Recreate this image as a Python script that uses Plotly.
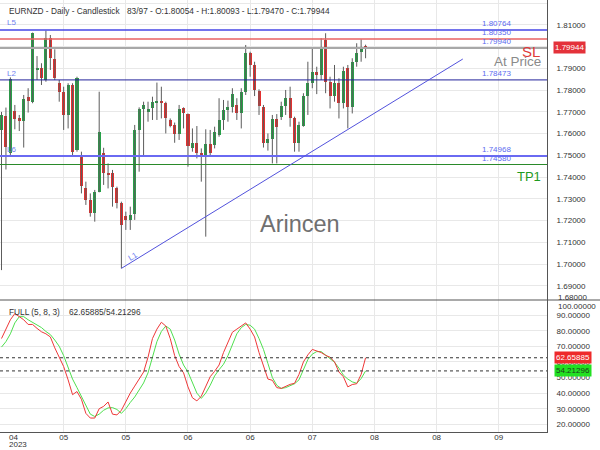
import plotly.graph_objects as go
from plotly.subplots import make_subplots

# ---------------- data ----------------
opens = [1.7617, 1.7680, 1.7509, 1.7706, 1.7674, 1.7658, 1.7767, 1.7747, 1.7897, 1.7901,
         1.7847, 1.8039, 1.7942, 1.7835, 1.7793, 1.7686, 1.7824, 1.7525, 1.7494, 1.7348,
         1.7295, 1.7236, 1.7333, 1.7512, 1.7417, 1.7417, 1.7348, 1.7279, 1.7221, 1.7203,
         1.7230, 1.7617, 1.7712, 1.7701, 1.7717, 1.7744, 1.7750, 1.7740, 1.7663, 1.7640,
         1.7598, 1.7717, 1.7690, 1.7532, 1.7558, 1.7509, 1.7494, 1.7552, 1.7548, 1.7594,
         1.7663, 1.7712, 1.7721, 1.7732, 1.7697, 1.7793, 1.7970, 1.7916, 1.7798, 1.7721,
         1.7555, 1.7574, 1.7666, 1.7675, 1.7727, 1.7763, 1.7670, 1.7555, 1.7635, 1.7773,
         1.7835, 1.7885, 1.7870, 1.8031, 1.7839, 1.7773, 1.7832, 1.7740, 1.7901, 1.7721,
         1.7931, 1.7977, 1.80054]
highs = [1.7700, 1.7720, 1.7859, 1.7732, 1.7686, 1.7778, 1.7809, 1.8065, 1.7957, 1.7924,
         1.8074, 1.8054, 1.7988, 1.7847, 1.7816, 1.7832, 1.7832, 1.7862, 1.7517, 1.7379,
         1.7325, 1.7341, 1.7793, 1.7535, 1.7463, 1.7433, 1.7356, 1.7287, 1.7241, 1.7264,
         1.7640, 1.7721, 1.7747, 1.7747, 1.7770, 1.7835, 1.7816, 1.7747, 1.7670, 1.7651,
         1.7732, 1.7721, 1.7693, 1.7624, 1.7635, 1.7532, 1.7620, 1.7617, 1.7632, 1.7763,
         1.7755, 1.7752, 1.7809, 1.7763, 1.7809, 1.8008, 1.7977, 1.7931, 1.7804, 1.7732,
         1.7601, 1.7686, 1.7690, 1.7747, 1.7801, 1.7816, 1.7678, 1.7655, 1.7786, 1.7931,
         1.7993, 1.7908, 1.8039, 1.8062, 1.7862, 1.7916, 1.7855, 1.7908, 1.7916, 1.7947,
         1.8016, 1.8034, 1.80093]
lows = [1.6972, 1.7435, 1.7502, 1.7620, 1.7612, 1.7536, 1.7697, 1.7740, 1.7847, 1.7824,
        1.7839, 1.7893, 1.7847, 1.7747, 1.7617, 1.7624, 1.7494, 1.7517, 1.7325, 1.7272,
        1.7218, 1.7195, 1.7330, 1.7364, 1.7348, 1.7264, 1.7256, 1.6980, 1.7157, 1.7157,
        1.7203, 1.7425, 1.7494, 1.7655, 1.7663, 1.7663, 1.7670, 1.7601, 1.7629, 1.7558,
        1.7571, 1.7624, 1.7448, 1.7517, 1.7486, 1.7379, 1.7126, 1.7494, 1.7532, 1.7586,
        1.7617, 1.7655, 1.7697, 1.7663, 1.7624, 1.7778, 1.7862, 1.7773, 1.7686, 1.7536,
        1.7522, 1.7463, 1.7463, 1.7663, 1.7686, 1.7632, 1.7517, 1.7517, 1.7632, 1.7686,
        1.7809, 1.7782, 1.7847, 1.7786, 1.7716, 1.7747, 1.7670, 1.7716, 1.7624, 1.7693,
        1.7908, 1.7931, 1.79470]
closes = [1.7686, 1.7540, 1.7850, 1.7667, 1.7658, 1.7759, 1.7752, 1.8062, 1.7901, 1.7855,
          1.8039, 1.7947, 1.7855, 1.7793, 1.7686, 1.7824, 1.7517, 1.7855, 1.7357, 1.7295,
          1.7233, 1.7333, 1.7609, 1.7417, 1.7410, 1.7356, 1.7279, 1.7180, 1.7203, 1.7226,
          1.7617, 1.7712, 1.7732, 1.7712, 1.7744, 1.7750, 1.7740, 1.7674, 1.7635, 1.7598,
          1.7712, 1.7693, 1.7543, 1.7558, 1.7512, 1.7494, 1.7552, 1.7509, 1.7609, 1.7663,
          1.7709, 1.7721, 1.7782, 1.7697, 1.7793, 1.7970, 1.7916, 1.7801, 1.7727, 1.7558,
          1.7574, 1.7666, 1.7629, 1.7727, 1.7763, 1.7670, 1.7555, 1.7640, 1.7773, 1.7832,
          1.7885, 1.7870, 1.8000, 1.7839, 1.7773, 1.7832, 1.7740, 1.7890, 1.7721, 1.7931,
          1.7970, 1.8000, 1.79944]

stoch_k = [75, 81, 87, 91, 89, 87, 84, 84, 81.5, 79.3,
           78, 76, 69, 63, 57, 48.5, 39, 41, 36, 27,
           24, 24, 30, 31.5, 34.3, 26.5, 26, 29, 35, 40,
           44.5, 49, 53.5, 63, 75, 81, 85.4, 83, 75, 64,
           57, 53, 44, 37, 35, 38, 44, 50.5, 54, 58,
           66, 73, 79, 81, 83, 85, 81, 76, 66, 57,
           49, 48.2, 43.5, 43, 44.5, 45.6, 46.3, 52, 60, 64.5,
           68, 67, 66, 64.2, 63, 60, 53.5, 50.5, 44, 45.5,
           46, 52, 62.65885]
stoch_d = [69.5, 73, 78, 85, 89, 89, 87, 85.5, 84, 82,
           79.5, 77.5, 74, 70, 64, 56, 49, 43.5, 38, 31.5,
           26.5, 25, 26.5, 29, 30.5, 30.7, 29.5, 27, 30, 34,
           37.5, 42, 46.5, 53, 63, 73, 79.5, 83, 81, 74,
           65, 58, 53.5, 47, 40, 36.6, 40, 45, 51, 55,
           58.5, 64, 71.5, 78, 82, 84, 83.5, 81, 75, 68,
           59, 50, 45, 43, 43.5, 44.8, 46, 48.5, 55, 61.5,
           65, 66.6, 66.6, 64.5, 62.2, 59.8, 56, 51.5, 49, 47.2,
           46.3, 49.3, 54.21296]

tick_idx = [14, 28, 42, 56, 70, 84, 98, 112]
tick_text = ["05", "05", "06", "06", "07", "08", "08", "09"]
price_ticks = [1.69, 1.70, 1.71, 1.72, 1.73, 1.74, 1.75, 1.76, 1.77, 1.78, 1.79, 1.80, 1.81, 1.82]
stoch_ticks = [20, 30, 40, 50, 60, 70, 80, 90]

level_prices = [1.80764, 1.80350, 1.79940, 1.78473, 1.74968, 1.74580]
trend_start = (27, 1.6980)
trend_end = (103.9, 1.79435)
last_price = 1.79944

# ---------------- layout helpers (pixels -> paper) ----------------
PW, PH = 547.0, 432.0
def px(x):
    return x / PW
def py(y):
    return (PH - y) / PH

idx = list(range(len(opens)))
GREEN = "#27a048"
RED = "#e2302f"
colors = [GREEN if c >= o else RED for o, c in zip(opens, closes)]

fig = make_subplots(rows=2, cols=1, shared_xaxes=True, vertical_spacing=0,
                    row_heights=[300, 132])

# wicks
wx, wy = [], []
for i, h, l in zip(idx, highs, lows):
    wx += [i, i, None]
    wy += [l, h, None]
fig.add_trace(go.Scatter(x=wx, y=wy, mode="lines", line=dict(color="#5c5c5c", width=1),
                         hoverinfo="skip", showlegend=False), row=1, col=1)
# bodies
fig.add_trace(go.Bar(x=idx, y=[abs(c - o) for o, c in zip(opens, closes)],
                     base=[min(o, c) for o, c in zip(opens, closes)],
                     width=0.68, marker=dict(color=colors, line=dict(width=0)),
                     showlegend=False), row=1, col=1)

# stochastic
fig.add_trace(go.Scatter(x=idx, y=stoch_d, mode="lines", line=dict(color="#4fe04f", width=1),
                         showlegend=False), row=2, col=1)
fig.add_trace(go.Scatter(x=idx, y=stoch_k, mode="lines", line=dict(color="#ee3838", width=1),
                         showlegend=False), row=2, col=1)

xr = [-0.34, 122.86]
grid = "#e8e8e8"
fig.update_layout(
    width=600, height=450,
    margin=dict(l=0, r=53, t=0, b=18),
    paper_bgcolor="white", plot_bgcolor="white",
    showlegend=False, bargap=0, hovermode=False,
    font=dict(family="Liberation Sans, Arial, sans-serif", size=8, color="#333"),
    xaxis=dict(range=xr, tickvals=tick_idx, showticklabels=False, gridcolor=grid,
               zeroline=False, showline=False, ticks=""),
    xaxis2=dict(range=xr, tickvals=tick_idx, ticktext=tick_text, gridcolor=grid,
                zeroline=False, showline=True, linecolor="#555", linewidth=1, ticks="",
                ticklabelstandoff=-3, automargin=False,
                tickfont=dict(size=8, color="#333")),
    yaxis=dict(domain=[132 / 432, 1], side="right", range=[1.68345, 1.8215],
               tickvals=price_ticks, tickformat=".5f", gridcolor=grid, zeroline=False,
               showline=True, linecolor="#555", linewidth=1, ticks="", automargin=False,
               ticklabelstandoff=7, tickfont=dict(size=8, color="#333")),
    yaxis2=dict(domain=[0, 132 / 432], side="right", range=[15.06, 99.68],
                tickvals=stoch_ticks, tickformat=".5f", gridcolor=grid, zeroline=False,
                showline=True, linecolor="#555", linewidth=1, ticks="", automargin=False,
                ticklabelstandoff=7, tickfont=dict(size=8, color="#333")),
)

# horizontal levels
level_styles = [("#4646e6", 1.5), ("#e86262", 1.5), ("#a8a8a8", 2),
                ("#22229a", 1), ("#6a6af2", 2), ("#2a8a2a", 1)]
for p, (c, w) in zip(level_prices, level_styles):
    fig.add_shape(type="line", xref="paper", yref="y", x0=0, x1=1, y0=p, y1=p,
                  line=dict(color=c, width=w))
    fig.add_annotation(xref="paper", yref="y", x=px(513), y=p, xanchor="right",
                       yanchor="bottom", yshift=0, text=f"{p:.5f}", showarrow=False,
                       font=dict(size=8, color="#5d6cf0"))

# trend line
fig.add_shape(type="line", xref="x", yref="y", x0=trend_start[0], y0=trend_start[1],
              x1=trend_end[0], y1=trend_end[1], line=dict(color="#5252dc", width=1))

# stochastic current-value dashed lines
for v in (stoch_k[-1], stoch_d[-1]):
    fig.add_shape(type="line", xref="paper", yref="y2", x0=0, x1=1, y0=v, y1=v,
                  line=dict(color="#333", width=1, dash="3px,3px"))

# panel separator
fig.add_shape(type="line", xref="paper", yref="paper", x0=0, x1=600 / PW,
              y0=132 / 432, y1=132 / 432, line=dict(color="#555", width=1))

def txt(x, y, s, size=8, color="#333", xa="left", **kw):
    fig.add_annotation(xref="paper", yref="paper", x=px(x), y=py(y), text=s,
                       showarrow=False, xanchor=xa, yanchor="middle",
                       font=dict(size=size, color=color), **kw)

txt(7, 10.5, "EURNZD - Daily - Candlestick", size=8.3)
txt(125, 10.5, "83/97 - O:1.80054 - H:1.80093 - L:1.79470 - C:1.79944", size=8.3)
txt(7, 311.5, "FULL (5, 8, 3)", size=8.3)
txt(67, 311.5, f"{stoch_k[-1]:.5f}/{stoch_d[-1]:.5f}", size=8.3)
txt(300, 224, "Arincen", size=23.5, color="#707070", xa="center")
txt(542, 51, "SL", size=15, color="#e03a3a", xa="right")
txt(543, 61, "At Price", size=13.5, color="#8a8a8a", xa="right")
txt(543, 176.5, "TP1", size=13, color="#1f9a1f", xa="right")
txt(5, 22.5, "L5", size=8, color="#7080f0")
txt(5, 73, "L2", size=8, color="#7080f0")
txt(5, 149, "L6", size=8, color="#7080f0")
txt(124, 256, "L1", size=8, color="#7080f0", textangle=-31)
txt(556, 297, "1.68000", size=8)
txt(556, 306.5, "100.00000", size=8)
txt(7, 437, "04", size=8)
txt(7, 444.5, "2023", size=8)

# value boxes on the right axis
fig.add_annotation(xref="paper", yref="y", x=px(553), y=last_price, xanchor="left",
                   yanchor="middle", text=f"{last_price:.5f}", showarrow=False,
                   bgcolor="#e4323a", borderpad=1, font=dict(size=8, color="white"))
fig.add_annotation(xref="paper", yref="y2", x=px(554), y=stoch_k[-1], xanchor="left",
                   yanchor="middle", text=f"{stoch_k[-1]:.5f}", showarrow=False,
                   bgcolor="#ee2a2a", borderpad=1, font=dict(size=8, color="white"))
fig.add_annotation(xref="paper", yref="y2", x=px(554), y=stoch_d[-1], xanchor="left",
                   yanchor="middle", text=f"{stoch_d[-1]:.5f}", showarrow=False,
                   bgcolor="#22e022", borderpad=1, font=dict(size=8, color="#1d3d1d"))

fig.write_html("out.html", config={"displayModeBar": False},
               post_script="document.body.style.margin='0';")
